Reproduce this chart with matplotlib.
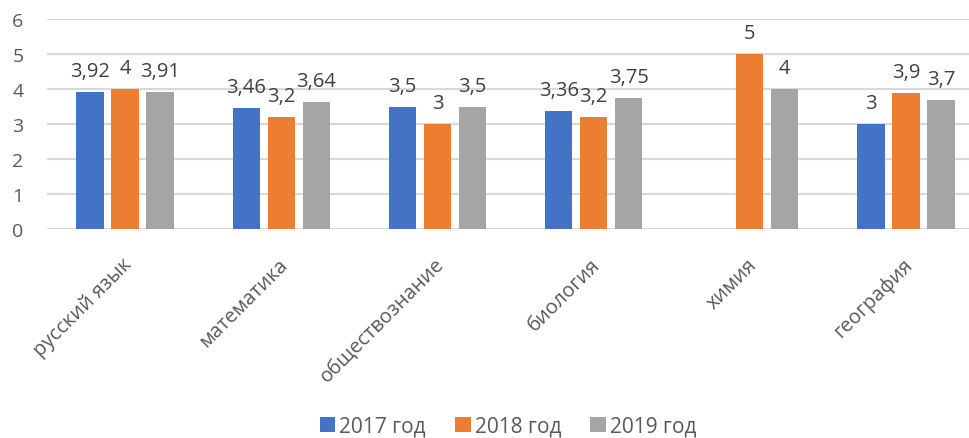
import numpy as np
import matplotlib
matplotlib.use("Agg")
import matplotlib.pyplot as plt

plt.rcParams['font.family'] = ['Open Sans', 'DejaVu Sans']

categories = ["русский язык", "математика", "обществознание", "биология", "химия", "география"]
series_names = ["2017 год", "2018 год", "2019 год"]
v2017 = [3.92, 3.46, 3.5, 3.36, np.nan, 3.0]
v2018 = [4.0, 3.2, 3.0, 3.2, 5.0, 3.9]
v2019 = [3.91, 3.64, 3.5, 3.75, 4.0, 3.7]
colors = ["#4472C4", "#ED7D31", "#A5A5A5"]

def fmt(v):
    s = ("%.2f" % v).rstrip("0").rstrip(".")
    return s.replace(".", ",")

fig = plt.figure(figsize=(9.7, 4.39), dpi=100)
ax = fig.add_axes([47/970, 1 - 230/439, (984-47)/970, 210/439])

x = np.arange(len(categories))
width = 0.175
step = 0.224
for i, (vals, name, c) in enumerate(zip([v2017, v2018, v2019], series_names, colors)):
    pos = x + (i - 1) * step
    ax.bar(pos, vals, width, color=c, label=name, zorder=3)
    for p, v in zip(pos, vals):
        if np.isnan(v):
            continue
        ax.annotate(fmt(v), (p, v), xytext=(0, 11.5), textcoords="offset points",
                    ha="center", va="baseline", fontsize=14.5, color="#404040")

ax.set_xlim(-0.5, len(categories) - 0.5)
ax.set_ylim(0, 6)
ax.set_yticks(range(0, 7))
ax.yaxis.grid(True, color="#D9D9D9", linewidth=1.5, zorder=0)
ax.set_axisbelow(True)
for s in ax.spines.values():
    s.set_visible(False)
ax.tick_params(axis="y", length=0, labelsize=14, labelcolor="#595959", pad=25)
for lbl in ax.get_yticklabels():
    lbl.set_horizontalalignment("left")
ax.set_xticks(x - 0.02)
ax.set_xticklabels(categories, rotation=45, ha="right", rotation_mode="anchor",
                   fontsize=14.5, color="#595959")
ax.tick_params(axis="x", length=0, pad=18)

fig.legend(loc="center", bbox_to_anchor=(508/970, 1 - 427/439), ncol=3, frameon=False,
           fontsize=15, handlelength=0.75, handleheight=0.75, handletextpad=0.2,
           columnspacing=1.4, labelcolor="#595959")

fig.savefig("out.png", dpi=100)
